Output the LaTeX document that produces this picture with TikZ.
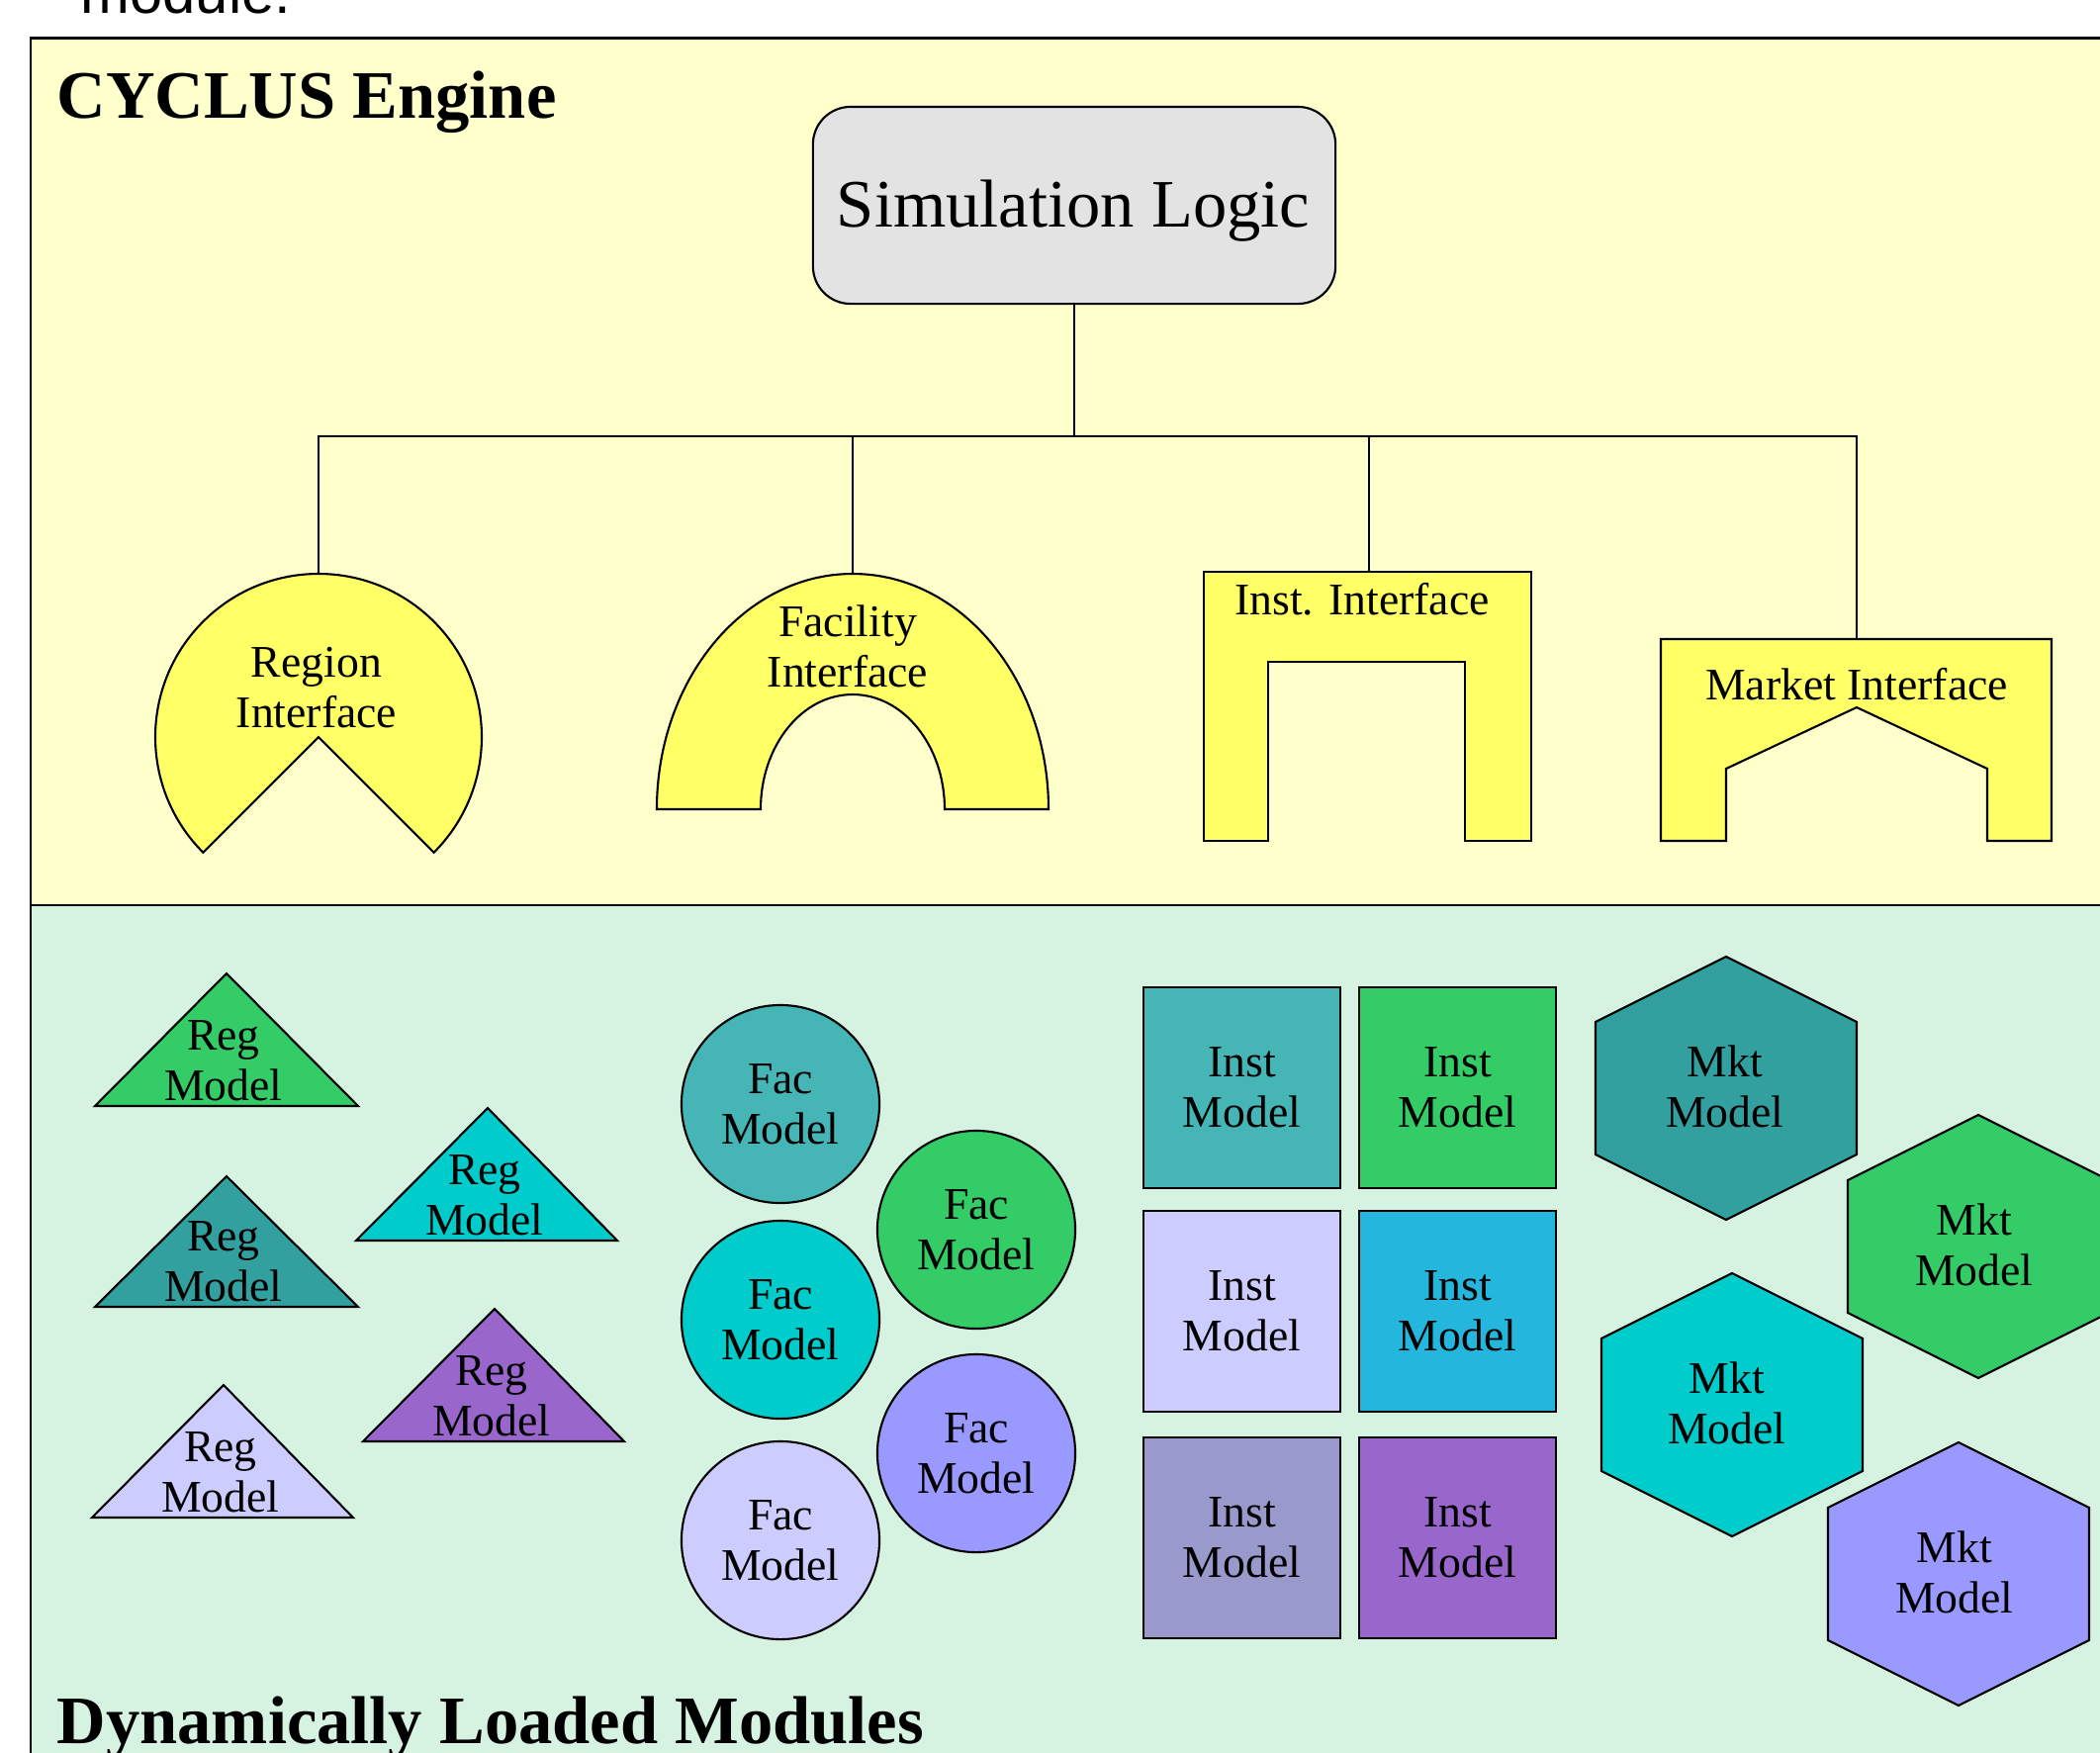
\documentclass[tikz,border=0pt]{standalone}
\usepackage{fontspec}
\usepackage{xcolor}
\setmainfont{Liberation Serif}
\newfontfamily\capsans{Liberation Sans}
\definecolor{topbg}{HTML}{FFFFCC}
\definecolor{botbg}{HTML}{D6F3E1}
\definecolor{ifyel}{HTML}{FFFF66}
\definecolor{simgray}{HTML}{E3E3E3}
\definecolor{mgreen}{HTML}{33CC66}
\definecolor{mcyan}{HTML}{00CCCC}
\definecolor{mteal}{HTML}{33A0A0}
\definecolor{mtealL}{HTML}{45B5B5}
\definecolor{mlav}{HTML}{CCCCFF}
\definecolor{mpurp}{HTML}{9966CC}
\definecolor{mblue}{HTML}{9999FF}
\definecolor{mgrayp}{HTML}{9999CC}
\definecolor{msky}{HTML}{24B6DC}
\newcommand\cyLbl{\fontsize{13pt}{14.5pt}\selectfont}
\newcommand\cySim{\fontsize{19.5pt}{23pt}\selectfont}
\newcommand\cyTtl{\fontsize{19.5pt}{23pt}\selectfont\bfseries}
\begin{document}
\begin{tikzpicture}[x=0.01cm,y=-0.01cm,
  ln/.style={draw=black,line width=0.6pt},
  ifc/.style={ln,fill=ifyel},
  lbl/.style={font=\cyLbl,align=center,inner sep=0pt},
  facnode/.style={circle,ln,minimum size=2cm,inner sep=0pt,font=\cyLbl,align=center},
  instnode/.style={rectangle,ln,minimum width=1.99cm,minimum height=2.03cm,inner sep=0pt,font=\cyLbl,align=center},
  ttl/.style={font=\cyTtl,inner sep=0pt,anchor=base west}]
\useasboundingbox (0,0) rectangle (2123,1771);
\clip (0,0) rectangle (2123,1771);
\fill[white] (0,0) rectangle (2123,1771);
\fill[topbg] (31,38) rectangle (2150,915);
\fill[botbg] (31,915) rectangle (2150,1800);
\draw[line width=0.85pt] (2150,38) -- (31,38) -- (31,1800);
\draw[line width=0.7pt] (31,915) -- (2150,915);

\node[font=\capsans\fontsize{17pt}{20pt}\selectfont,anchor=base west,inner sep=0pt] (capfrag) at (81,13) {module.};

% simulation logic
\node[ln,fill=simgray,rounded corners=0.38cm,minimum width=5.28cm,minimum height=1.99cm,inner sep=0pt] (sim) at (1086,207.5) {};
\node[font=\cySim,inner sep=0pt,anchor=base] (simtxt) at (1085,229) {Simulation Logic};

% tree
\coordinate (regtop) at (322,580);
\coordinate (factop) at (862,580);
\coordinate (insttop) at (1384,578);
\coordinate (mkttop) at (1877,646);
\coordinate (bus) at (1086,441);
\draw[ln] (sim.south) -- (bus);
\draw[ln] (regtop) -- (regtop |- bus) -| (mkttop);
\draw[ln] (factop) -- (factop |- bus);
\draw[ln] (insttop) -- (insttop |- bus);

% interfaces
\draw[ifc] (322,745) -- ++(135:165) arc (135:405:165) -- cycle;
\node[lbl] (regtxt) at (320,695) {Region\\Interface};
\draw[ifc] (664,818) arc (180:360:198 and 238) -- (955,818) arc (0:-180:93 and 116) -- cycle;
\node[lbl] (factxt) at (857,653) {Facility\\Interface};
\draw[ifc] (1217,578) -- (1548,578) -- (1548,850) -- (1481,850) -- (1481,669) -- (1282,669) -- (1282,850) -- (1217,850) -- cycle;
\node[lbl,anchor=base] (insttxt) at (1377,621) {Inst. Interface};
\draw[ifc] (1679,646) -- (2074,646) -- (2074,850) -- (2009,850) -- (2009,777) -- (1877,715) -- (1745,777) -- (1745,850) -- (1679,850) -- cycle;
\node[lbl,anchor=base] (mkttxt) at (1877,707) {Market Interface};

% region models
\draw[ln,fill=mgreen] (229,984) -- (362,1118) -- (96,1118) -- cycle;
\node[lbl] (reg1) at (226,1072) {Reg\\Model};
\draw[ln,fill=mcyan] (493,1120) -- (624,1254) -- (360,1254) -- cycle;
\node[lbl] (reg2) at (490,1208) {Reg\\Model};
\draw[ln,fill=mteal] (229,1189) -- (362,1321) -- (96,1321) -- cycle;
\node[lbl] (reg3) at (226,1275) {Reg\\Model};
\draw[ln,fill=mpurp] (500,1323) -- (631,1457) -- (367,1457) -- cycle;
\node[lbl] (reg4) at (497,1411) {Reg\\Model};
\draw[ln,fill=mlav] (226,1400) -- (357,1534) -- (93,1534) -- cycle;
\node[lbl] (reg5) at (223,1488) {Reg\\Model};

% facility models
\node[facnode,fill=mtealL] (fac1) at (789,1116) {Fac\\Model};
\node[facnode,fill=mgreen] (fac2) at (987,1243) {Fac\\Model};
\node[facnode,fill=mcyan] (fac3) at (789,1334) {Fac\\Model};
\node[facnode,fill=mblue] (fac4) at (987,1469) {Fac\\Model};
\node[facnode,fill=mlav] (fac5) at (789,1557) {Fac\\Model};

% institution models
\node[instnode,fill=mtealL] (inst1) at (1255.5,1099.5) {Inst\\Model};
\node[instnode,fill=mgreen] (inst2) at (1473.5,1099.5) {Inst\\Model};
\node[instnode,fill=mlav] (inst3) at (1255.5,1325.5) {Inst\\Model};
\node[instnode,fill=msky] (inst4) at (1473.5,1325.5) {Inst\\Model};
\node[instnode,fill=mgrayp] (inst5) at (1255.5,1554.5) {Inst\\Model};
\node[instnode,fill=mpurp] (inst6) at (1473.5,1554.5) {Inst\\Model};

% market models
\draw[ln,fill=mteal] (1745,967) -- ++(132,66) -- ++(0,134) -- ++(-132,66) -- ++(-132,-66) -- ++(0,-134) -- cycle;
\node[lbl] (mkt1) at (1744,1098) {Mkt\\Model};
\draw[ln,fill=mgreen] (2000,1127) -- ++(132,66) -- ++(0,134) -- ++(-132,66) -- ++(-132,-66) -- ++(0,-134) -- cycle;
\node[lbl] (mkt2) at (1996,1258) {Mkt\\Model};
\draw[ln,fill=mcyan] (1751,1287) -- ++(132,66) -- ++(0,134) -- ++(-132,66) -- ++(-132,-66) -- ++(0,-134) -- cycle;
\node[lbl] (mkt3) at (1746,1418) {Mkt\\Model};
\draw[ln,fill=mblue] (1980,1458) -- ++(132,66) -- ++(0,134) -- ++(-132,66) -- ++(-132,-66) -- ++(0,-134) -- cycle;
\node[lbl] (mkt4) at (1976,1589) {Mkt\\Model};

% titles
\node[ttl] (engine) at (57,119) {CYCLUS Engine};
\node[ttl] (dlm) at (57,1762) {Dynamically Loaded Modules};
\end{tikzpicture}
\end{document}
